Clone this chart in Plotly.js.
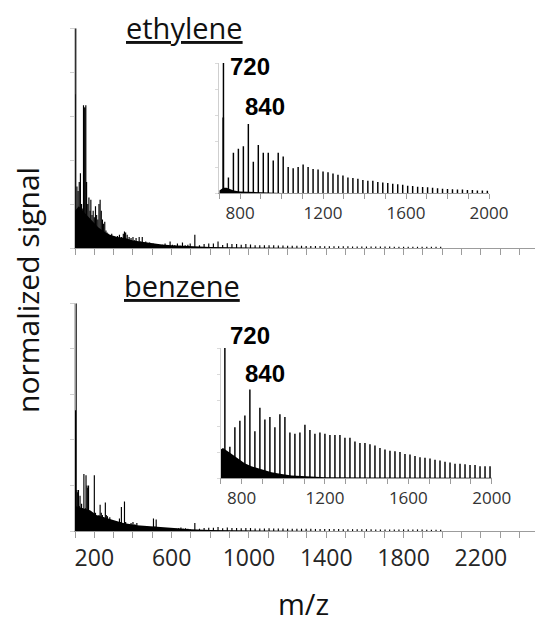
<!DOCTYPE html>
<html>
<head>
<meta charset="utf-8">
<script src="https://cdn.plot.ly/plotly-3.0.1.min.js"></script>
<style>html,body{margin:0;padding:0;background:#fff;}#chart{width:535px;height:623px;}</style>
</head>
<body>
<div id="chart"></div>
<script>
// ---------- data ----------
// main spectrum, ethylene (m/z, normalized signal)
const ethMz  = [100,104,110,116,122,128,134,140,144,148,152,156,160,166,172,178,182,188,194,200,206,212,218,224,230,236,242,248,254,260,266,272,280,290,300,310,320,330,340,350,356,362,370,380,390,400,408,416,424,432,440,448,456,466,476,486,496,504,516,528,540,552,566,580,592,604,616,630,644,656,670,684,696];
const ethVal = [0.70,1.00,0.28,0.26,0.30,0.34,0.20,0.18,0.65,0.64,0.64,0.65,0.30,0.20,0.23,0.17,0.22,0.15,0.17,0.14,0.19,0.15,0.13,0.20,0.22,0.17,0.13,0.11,0.12,0.08,0.07,0.065,0.06,0.065,0.055,0.05,0.055,0.06,0.05,0.065,0.075,0.07,0.06,0.05,0.045,0.05,0.035,0.045,0.03,0.05,0.03,0.05,0.025,0.03,0.02,0.025,0.015,0.02,0.015,0.018,0.012,0.015,0.02,0.012,0.03,0.015,0.012,0.02,0.01,0.025,0.012,0.015,0.02];
const ethBaseMz  = [100,120,140,160,180,200,220,250,280,320,360,400,450,500,550,600,700,800,1000,1400];
const ethBaseVal = [0.17,0.19,0.17,0.15,0.13,0.11,0.095,0.075,0.06,0.05,0.045,0.034,0.027,0.021,0.016,0.012,0.008,0.004,0.002,0];

// main spectrum, benzene
const bzMz  = [100,103,106,110,114,118,122,126,130,134,138,146,150,154,157,162,166,170,174,180,186,192,200,206,212,218,224,230,236,242,248,257,262,268,274,280,286,292,300,310,320,330,336,340,346,356,362,370,380,390,400,410,420,430,440,450,460,470,480,490,500,506,514,520,530,540,550,560,570,580,590,600,612,624,636,648,660,672,684,696];
const bzVal = [0.43,0.53,1.00,0.18,0.17,0.18,0.11,0.155,0.10,0.12,0.10,0.25,0.09,0.10,0.245,0.20,0.19,0.20,0.09,0.08,0.07,0.08,0.245,0.08,0.06,0.05,0.07,0.115,0.08,0.07,0.06,0.125,0.07,0.065,0.05,0.06,0.04,0.04,0.035,0.03,0.03,0.055,0.04,0.105,0.03,0.13,0.04,0.03,0.03,0.035,0.04,0.03,0.035,0.02,0.015,0.015,0.015,0.012,0.015,0.012,0.015,0.055,0.02,0.05,0.012,0.01,0.01,0.012,0.01,0.01,0.01,0.012,0.008,0.01,0.012,0.015,0.01,0.012,0.01,0.008];
const bzBaseMz  = [100,140,180,210,250,280,320,350,420,520,600,700,800,1000,1400];
const bzBaseVal = [0.11,0.10,0.09,0.07,0.06,0.05,0.04,0.035,0.025,0.018,0.012,0.008,0.004,0.002,0];

// high-mass cluster series (C60 = 720, C70 = 840, spacing 24)
const clusterMz = [720,744,768,792,816,840,864,888,912,936,960,984,1008,1032,1056,1080,1104,1128,1152,1176,1200,1224,1248,1272,1296,1320,1344,1368,1392,1416,1440,1464,1488,1512,1536,1560,1584,1608,1632,1656,1680,1704,1728,1752,1776,1800,1824,1848,1872,1896,1920,1944,1968,1992];
const ethMainHigh = [0.06,0.012,0.018,0.02,0.02,0.03, 0.014,0.022,0.018,0.018,0.015,0.018, 0.016,0.012,0.012,0.012,0.013,0.012, 0.011,0.011,0.01,0.01,0.01,0.01, 0.009,0.009,0.009,0.009,0.008,0.008, 0.008,0.008,0.008,0.008,0.007,0.007, 0.007,0.007,0.007,0.007,0.007,0.007, 0.007,0.006,0.006,0.006,0.006,0.006, 0.006,0.006,0.006,0.006,0.006,0.006];
const bzMainHigh  = [0.035,0.01,0.013,0.014,0.014,0.018, 0.012,0.015,0.013,0.013,0.012,0.013, 0.013,0.011,0.011,0.011,0.012,0.011, 0.011,0.011,0.01,0.01,0.01,0.01, 0.01,0.01,0.009,0.009,0.009,0.009, 0.009,0.009,0.008,0.008,0.008,0.008, 0.008,0.008,0.008,0.007,0.007,0.007, 0.007,0.007,0.007,0.007,0.007,0.007, 0.007,0.007,0.006,0.006,0.006,0.006];

// insets (normalized to the 720 peak)
const ethInset = [1.0,0.12,0.31,0.34,0.36,0.53, 0.24,0.37,0.31,0.31,0.25,0.31, 0.28,0.20,0.19,0.20,0.22,0.20, 0.185,0.18,0.165,0.16,0.15,0.14, 0.135,0.12,0.115,0.11,0.10,0.095, 0.095,0.085,0.08,0.077,0.072,0.067, 0.064,0.056,0.054,0.049,0.046,0.044, 0.041,0.036,0.033,0.031,0.028,0.026, 0.026,0.023,0.023,0.02,0.02,0.018];
const ethInsetExtraMz  = [719];
const ethInsetExtraVal = [0.58];
const ethInsetBaseMz  = [700,710,720,735,750,770,800,850,900,1000];
const ethInsetBaseVal = [0.02,0.03,0.04,0.04,0.03,0.02,0.012,0.008,0.005,0];
const bzInset = [1.0,0.24,0.39,0.44,0.48,0.68, 0.36,0.54,0.45,0.47,0.39,0.49, 0.47,0.35,0.34,0.35,0.41,0.37, 0.34,0.35,0.34,0.33,0.33,0.33, 0.31,0.31,0.28,0.27,0.27,0.26, 0.25,0.23,0.22,0.21,0.205,0.20, 0.185,0.18,0.17,0.16,0.155,0.15, 0.14,0.135,0.125,0.12,0.11,0.11, 0.105,0.10,0.10,0.09,0.09,0.09];
const bzInsetBaseMz  = [700,711,751,783,815,847,896,944,992,1040,1088,1136,1200,1400,2000];
const bzInsetBaseVal = [0.22,0.23,0.186,0.147,0.114,0.09,0.065,0.044,0.031,0.02,0.015,0.01,0.006,0.003,0.002];

// tick labels
const mainTicks = [100,200,300,400,500,600,700,800,900,1000,1100,1200,1300,1400,1500,1600,1700,1800,1900,2000,2100,2200,2300,2400];
const mainTickText = ['','200','','','','600','','','','1000','','','','1400','','','','1800','','','','2200','',''];
const insetTicks = [700,800,900,1000,1100,1200,1300,1400,1500,1600,1700,1800,1900,2000];
const insetTickText = ['','800','','','','1200','','','','1600','','','','2000'];
const yTicks = [0,0.2,0.4,0.6,0.8,1.0];

// ---------- traces ----------
function bars(x, y, xa, ya, w) {
  return {type:'bar', x:x, y:y, xaxis:xa, yaxis:ya, width:w,
          marker:{color:'#000', line:{width:0}}, hoverinfo:'skip'};
}
function fillArea(x, y, xa, ya) {
  return {type:'scatter', mode:'lines', x:x, y:y, xaxis:xa, yaxis:ya,
          fill:'tozeroy', fillcolor:'#000', line:{width:0, color:'#000'}, hoverinfo:'skip'};
}
const data = [
  fillArea(ethBaseMz, ethBaseVal, 'x', 'y'),
  bars(ethMz, ethVal, 'x', 'y', 6),
  bars(clusterMz, ethMainHigh, 'x', 'y', 6),
  fillArea(bzBaseMz, bzBaseVal, 'x2', 'y2'),
  bars(bzMz, bzVal, 'x2', 'y2', 6),
  bars(clusterMz, bzMainHigh, 'x2', 'y2', 6),
  fillArea(ethInsetBaseMz, ethInsetBaseVal, 'x3', 'y3'),
  bars(clusterMz, ethInset, 'x3', 'y3', 7),
  bars(ethInsetExtraMz, ethInsetExtraVal, 'x3', 'y3', 8),
  fillArea(bzInsetBaseMz, bzInsetBaseVal, 'x4', 'y4'),
  bars(clusterMz, bzInset, 'x4', 'y4', 7)
];

// ---------- layout ----------
const W = 535, H = 623;
const px = v => v / W;
const py = v => 1 - v / H;

function mainX(domain, anchor, labels) {
  return {domain:domain, anchor:anchor, range:[100, 2480], showgrid:false, zeroline:false,
          showline:true, linecolor:'#9c9c9c', linewidth:1,
          ticks:'outside', ticklen:6, tickwidth:1, tickcolor:'#9c9c9c',
          tickmode:'array', tickvals:mainTicks, ticktext:mainTickText,
          showticklabels:labels, tickfont:{family:'Open Sans', size:23, color:'#262626'},
          fixedrange:true};
}
function mainY(domain, anchor) {
  return {domain:domain, anchor:anchor, range:[0, 1], showgrid:false, zeroline:false,
          showline:true, linecolor:'#c4c4c4', linewidth:1,
          ticks:'outside', ticklen:4, tickwidth:1, tickcolor:'#d0d0d0',
          tickmode:'array', tickvals:yTicks, showticklabels:false, fixedrange:true};
}
function insetX(domain, anchor) {
  return {domain:domain, anchor:anchor, range:[700, 2000], showgrid:false, zeroline:false,
          showline:true, linecolor:'#9c9c9c', linewidth:1,
          ticks:'outside', ticklen:5, tickwidth:1, tickcolor:'#9c9c9c',
          tickmode:'array', tickvals:insetTicks, ticktext:insetTickText,
          showticklabels:true, tickfont:{family:'Open Sans', size:17, color:'#333'},
          fixedrange:true};
}
function insetY(domain, anchor) {
  return {domain:domain, anchor:anchor, range:[0, 1], showgrid:false, zeroline:false,
          showline:true, linecolor:'#cfcfcf', linewidth:1,
          ticks:'outside', ticklen:3, tickwidth:1, tickcolor:'#dadada',
          tickmode:'array', tickvals:yTicks, showticklabels:false, fixedrange:true};
}

const big = {family:'Open Sans', size:29, color:'#111'};
const num = {family:'Liberation Sans, Arial', size:24, color:'#000'};

const layout = {
  width:W, height:H, margin:{l:0, r:0, t:0, b:0, pad:0},
  paper_bgcolor:'#fff', plot_bgcolor:'rgba(0,0,0,0)',
  showlegend:false, barmode:'overlay',
  xaxis:  mainX([px(75), 1], 'y', false),
  yaxis:  mainY([py(248), py(28.3)], 'x'),
  xaxis2: mainX([px(75), 1], 'y2', true),
  yaxis2: mainY([py(531), py(303.3)], 'x2'),
  xaxis3: insetX([px(219.3), px(489)], 'y3'),
  yaxis3: insetY([py(193), py(63)], 'x3'),
  xaxis4: insetX([px(220.7), px(491.7)], 'y4'),
  yaxis4: insetY([py(478), py(348)], 'x4'),
  annotations: [
    {text:'<u>ethylene</u>', xref:'paper', yref:'paper', x:px(184), y:py(27), xanchor:'center', yanchor:'middle', showarrow:false, font:big},
    {text:'<u>benzene</u>', xref:'paper', yref:'paper', x:px(182), y:py(285), xanchor:'center', yanchor:'middle', showarrow:false, font:big},
    {text:'normalized signal', xref:'paper', yref:'paper', x:px(27), y:py(290), xanchor:'center', yanchor:'middle', textangle:-90, showarrow:false, font:{family:'Open Sans', size:30, color:'#111'}},
    {text:'m/z', xref:'paper', yref:'paper', x:px(303), y:py(603), xanchor:'center', yanchor:'middle', showarrow:false, font:big},
    {text:'<b>720</b>', xref:'paper', yref:'paper', x:px(250), y:py(66), xanchor:'center', yanchor:'middle', showarrow:false, font:num},
    {text:'<b>840</b>', xref:'paper', yref:'paper', x:px(265), y:py(107), xanchor:'center', yanchor:'middle', showarrow:false, font:num},
    {text:'<b>720</b>', xref:'paper', yref:'paper', x:px(250), y:py(335), xanchor:'center', yanchor:'middle', showarrow:false, font:num},
    {text:'<b>840</b>', xref:'paper', yref:'paper', x:px(265), y:py(373), xanchor:'center', yanchor:'middle', showarrow:false, font:num}
  ]
};

Plotly.newPlot('chart', data, layout, {displayModeBar:false, staticPlot:true});
</script>
</body>
</html>
